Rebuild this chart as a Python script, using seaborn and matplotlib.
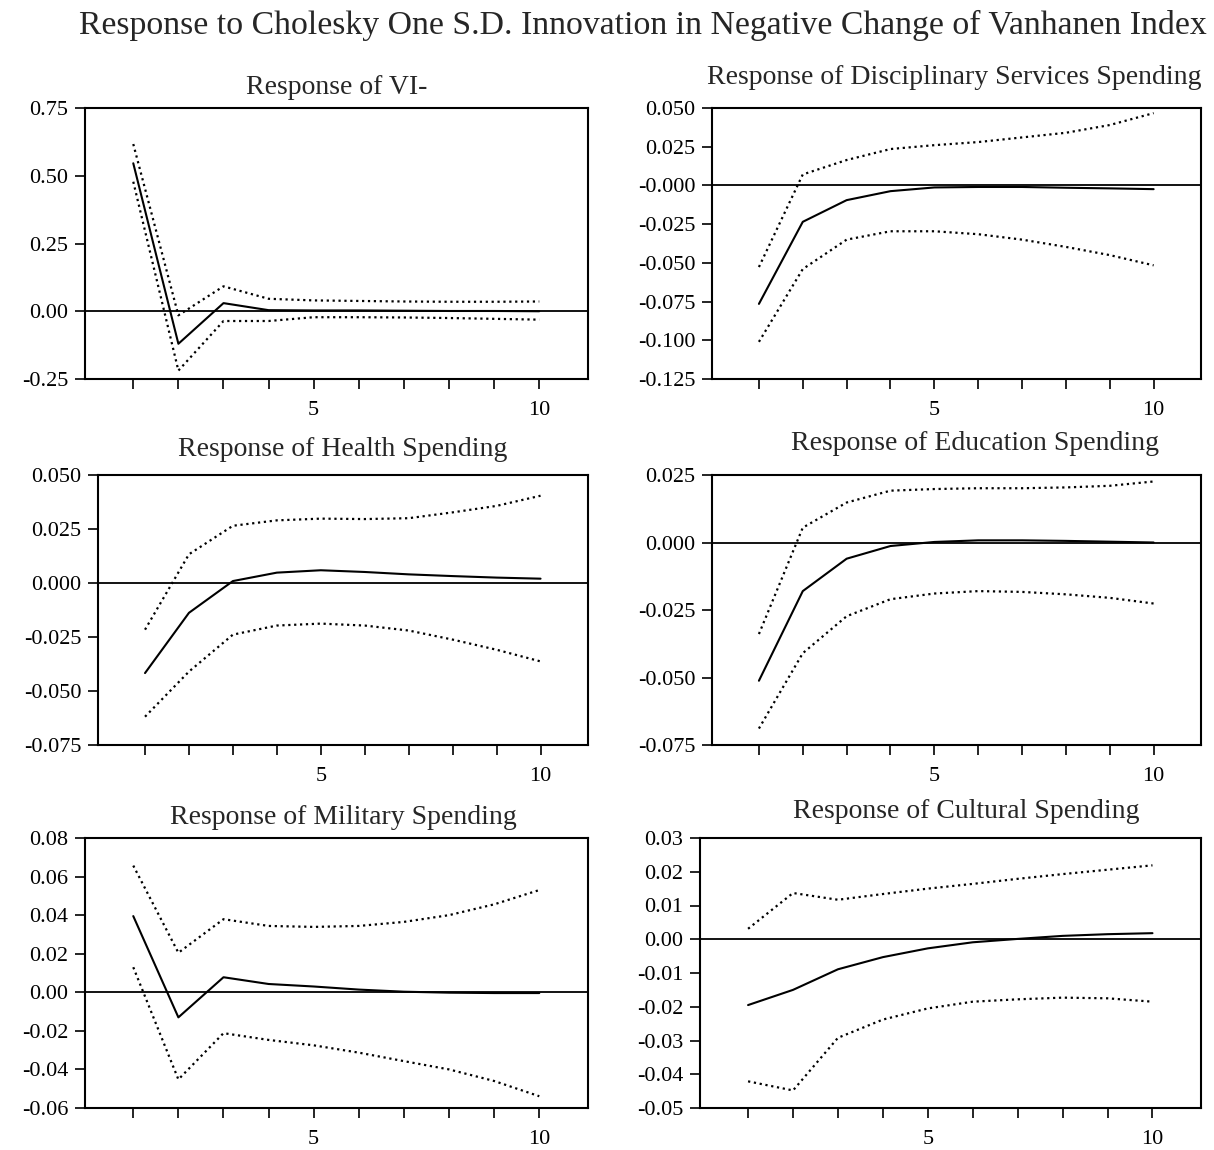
import numpy as np
import pandas as pd
import matplotlib.pyplot as plt
import seaborn as sns

periods = list(range(1, 11))

# impulse responses (solid) with +/- 2 S.E. bands (dotted)
vi_resp = [0.546, -0.120, 0.030, 0.004, 0.003, 0.003, 0.002, 0.001, 0.001, 0.000]
vi_upper = [0.617, -0.015, 0.092, 0.046, 0.040, 0.038, 0.036, 0.035, 0.035, 0.036]
vi_lower = [0.478, -0.219, -0.036, -0.036, -0.022, -0.022, -0.023, -0.025, -0.028, -0.031]

disc_resp = [-0.0765, -0.0235, -0.0095, -0.0037, -0.0013, -0.0010, -0.0010, -0.0015, -0.0019, -0.0024]
disc_upper = [-0.0527, 0.0071, 0.0164, 0.0235, 0.0260, 0.0280, 0.0310, 0.0340, 0.0390, 0.0467]
disc_lower = [-0.1010, -0.0540, -0.0350, -0.0296, -0.0296, -0.0315, -0.0350, -0.0397, -0.0450, -0.0516]

health_resp = [-0.0417, -0.0138, 0.0009, 0.0048, 0.0059, 0.0051, 0.0040, 0.0032, 0.0025, 0.0020]
health_upper = [-0.0216, 0.0133, 0.0265, 0.0290, 0.0298, 0.0296, 0.0300, 0.0327, 0.0357, 0.0404]
health_lower = [-0.0619, -0.0410, -0.0239, -0.0197, -0.0188, -0.0197, -0.0220, -0.0262, -0.0309, -0.0363]

edu_resp = [-0.0512, -0.0180, -0.0060, -0.0013, 0.0002, 0.0008, 0.0008, 0.0006, 0.0003, 0.0000]
edu_upper = [-0.0339, 0.0055, 0.0148, 0.0192, 0.0198, 0.0201, 0.0201, 0.0204, 0.0210, 0.0226]
edu_lower = [-0.0689, -0.0410, -0.0273, -0.0210, -0.0189, -0.0180, -0.0183, -0.0192, -0.0205, -0.0226]

mil_resp = [0.0395, -0.0130, 0.0078, 0.0043, 0.0030, 0.0014, 0.0003, -0.0002, -0.0004, -0.0004]
mil_upper = [0.0657, 0.0205, 0.0379, 0.0344, 0.0339, 0.0344, 0.0365, 0.0400, 0.0456, 0.0530]
mil_lower = [0.0130, -0.0452, -0.0212, -0.0247, -0.0275, -0.0313, -0.0357, -0.0400, -0.0460, -0.0539]

cult_resp = [-0.0195, -0.0150, -0.0089, -0.0053, -0.0027, -0.0009, 0.0001, 0.0010, 0.0015, 0.0018]
cult_upper = [0.0031, 0.0137, 0.0117, 0.0134, 0.0150, 0.0164, 0.0179, 0.0193, 0.0206, 0.0219]
cult_lower = [-0.0421, -0.0448, -0.0292, -0.0238, -0.0205, -0.0185, -0.0178, -0.0173, -0.0175, -0.0185]

titles = ["Response of VI-", "Response of Disciplinary Services Spending",
          "Response of Health Spending", "Response of Education Spending",
          "Response of Military Spending", "Response of Cultural Spending"]

ytick_vals = [
    [-0.25, 0.00, 0.25, 0.50, 0.75],
    [-0.125, -0.100, -0.075, -0.050, -0.025, 0.000, 0.025, 0.050],
    [-0.075, -0.050, -0.025, 0.000, 0.025, 0.050],
    [-0.075, -0.050, -0.025, 0.000, 0.025],
    [-0.06, -0.04, -0.02, 0.00, 0.02, 0.04, 0.06, 0.08],
    [-0.05, -0.04, -0.03, -0.02, -0.01, 0.00, 0.01, 0.02, 0.03],
]
ytick_text = [
    ["-0.25", "0.00", "0.25", "0.50", "0.75"],
    ["-0.125", "-0.100", "-0.075", "-0.050", "-0.025", "-0.000", "0.025", "0.050"],
    ["-0.075", "-0.050", "-0.025", "0.000", "0.025", "0.050"],
    ["-0.075", "-0.050", "-0.025", "0.000", "0.025"],
    ["-0.06", "-0.04", "-0.02", "0.00", "0.02", "0.04", "0.06", "0.08"],
    ["-0.05", "-0.04", "-0.03", "-0.02", "-0.01", "0.00", "0.01", "0.02", "0.03"],
]

panels = [
    (vi_resp, vi_upper, vi_lower),
    (disc_resp, disc_upper, disc_lower),
    (health_resp, health_upper, health_lower),
    (edu_resp, edu_upper, edu_lower),
    (mil_resp, mil_upper, mil_lower),
    (cult_resp, cult_upper, cult_lower),
]

# axes boxes in pixels (left, top, right, bottom) and title centres
boxes = [(85, 108, 588, 379), (712, 108, 1201, 379),
         (98, 475, 588, 745), (712, 475, 1201, 745),
         (85, 838, 588, 1108), (700, 838, 1201, 1108)]
title_pos = [(337, 88), (954, 78), (343, 450), (975, 444), (343, 818), (966, 812)]

sns.set_style("white")
plt.rcParams["font.family"] = ["Liberation Serif", "DejaVu Serif"]

W, H = 1214, 1150
fig = plt.figure(figsize=(W / 100, H / 100), dpi=100)

fig.text(643 / W, 1 - 25 / H,
         "Response to Cholesky One S.D. Innovation in Negative Change of Vanhanen Index",
         ha="center", va="center", fontsize=24.3)

for i, (resp, upper, lower) in enumerate(panels):
    x0, y0, x1, y1 = boxes[i]
    ax = fig.add_axes([x0 / W, 1 - y1 / H, (x1 - x0) / W, (y1 - y0) / H])
    df = pd.DataFrame({"period": periods * 3,
                       "value": resp + upper + lower,
                       "band": ["resp"] * 10 + ["upper"] * 10 + ["lower"] * 10})
    sns.lineplot(data=df[df.band == "resp"], x="period", y="value",
                 color="black", lw=1.5, ax=ax)
    for b in ["upper", "lower"]:
        sns.lineplot(data=df[df.band == b], x="period", y="value",
                     color="black", lw=1.6, linestyle=":", ax=ax)
    ax.axhline(0, color="black", lw=1.3)

    ax.set_xlim(-0.07, 11.08)
    ax.set_ylim(ytick_vals[i][0], ytick_vals[i][-1])
    ax.set_xticks(periods)
    ax.set_xticklabels([str(p) if p in (5, 10) else "" for p in periods])
    ax.set_yticks(ytick_vals[i])
    ax.set_yticklabels(ytick_text[i])
    ax.set_xlabel("")
    ax.set_ylabel("")
    ax.tick_params(axis="both", direction="out", length=7, width=1.2,
                   colors="black", labelsize=16, bottom=True, left=True)
    ax.tick_params(axis="x", pad=9)
    ax.tick_params(axis="y", pad=5)
    for s in ax.spines.values():
        s.set_visible(True)
        s.set_color("black")
        s.set_linewidth(1.5)

    tx, ty = title_pos[i]
    fig.text(tx / W, 1 - ty / H, titles[i], ha="center", va="center", fontsize=20)

fig.savefig("out.png", dpi=100, facecolor="white")
